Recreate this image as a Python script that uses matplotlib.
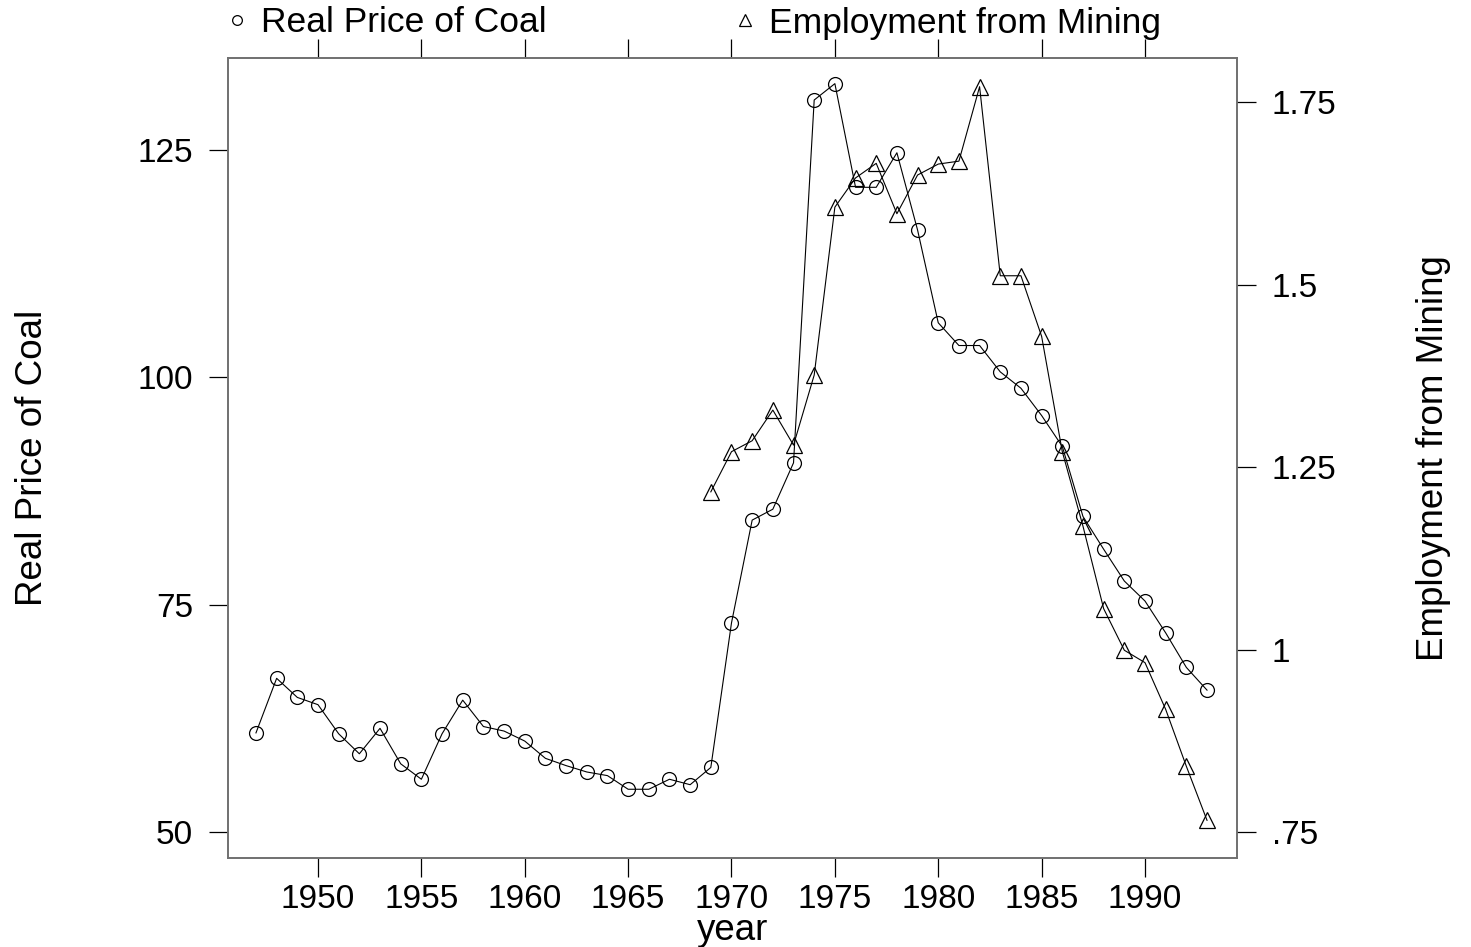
import matplotlib
matplotlib.use("Agg")
import matplotlib.pyplot as plt
from matplotlib.lines import Line2D

plt.rcParams['font.family'] = ['Liberation Sans', 'DejaVu Sans']

years = list(range(1947, 1994))
coal_price = [60.9, 66.9, 64.8, 64.0, 60.8, 58.6, 61.4, 57.5, 55.8, 60.8,
              64.5, 61.6, 61.1, 60.0, 58.1, 57.3, 56.6, 56.2, 54.7, 54.7,
              55.8, 55.2, 57.1, 73.0, 84.3, 85.5, 90.6, 130.5, 132.3, 120.9,
              120.9, 124.7, 116.2, 106.0, 103.5, 103.5, 100.6, 98.8, 95.8, 92.4,
              84.7, 81.1, 77.6, 75.4, 71.9, 68.1, 65.6]
emp_years = list(range(1969, 1994))
employment = [1.216, 1.271, 1.286, 1.328, 1.280, 1.376, 1.606, 1.646, 1.666, 1.597,
              1.650, 1.665, 1.669, 1.771, 1.512, 1.512, 1.429, 1.271, 1.169, 1.056,
              0.999, 0.982, 0.918, 0.840, 0.766]

xticks = [1950, 1955, 1960, 1965, 1970, 1975, 1980, 1985, 1990]
left_ticks = [50, 75, 100, 125]
right_ticks = [0.75, 1.0, 1.25, 1.5, 1.75]
right_labels = ['.75', '1', '1.25', '1.5', '1.75']

W, H = 1471, 947
fig = plt.figure(figsize=(W / 100, H / 100), dpi=100)
ax = fig.add_axes([228 / W, 1 - 858 / H, (1237 - 228) / W, (858 - 58) / H])
ax2 = ax.twinx()

fs_tick = 24
fs_title = 26.5
fs_leg = 25.5
mk = dict(markerfacecolor='none', markeredgecolor='black', markeredgewidth=0.9)
ax.plot(years, coal_price, color='black', lw=0.8, marker='o', markersize=10, **mk)
ax2.plot(emp_years, employment, color='black', lw=0.8, marker='^', markersize=11, **mk)

ax.set_xlim(1945.647, 1994.45)
ax.set_ylim(47.14, 135.12)
ax2.set_ylim(0.7144, 1.8103)

ax.set_xticks(xticks)
ax.set_xticklabels([str(x) for x in xticks], fontsize=fs_tick)
ax.set_yticks(left_ticks)
ax.set_yticklabels([str(v) for v in left_ticks], fontsize=fs_tick)
ax2.set_yticks(right_ticks)
ax2.set_yticklabels(right_labels, fontsize=fs_tick)

ax.tick_params(axis='x', which='both', direction='out', length=14, width=0.9,
               top=True, pad=5, color='black')
ax.tick_params(axis='y', direction='out', length=14, width=0.9, pad=11, color='black')
ax2.tick_params(axis='y', direction='out', length=14, width=0.9, pad=11, color='black')

for a in (ax, ax2):
    for s in a.spines.values():
        s.set_color('#707070')
        s.set_linewidth(1.2)

ax.set_xlabel('year', fontsize=fs_title, labelpad=-2)
ax.set_ylabel('Real Price of Coal', fontsize=fs_title, labelpad=63)
ax2.set_ylabel('Employment from Mining', fontsize=fs_title, labelpad=57)

leg_kw = dict(loc='center left', ncol=1, frameon=False, fontsize=fs_leg,
              handlelength=0.6, handletextpad=0.4, borderaxespad=0.0, borderpad=0.0)
h1 = Line2D([], [], ls='none', marker='o', markersize=7, **mk)
h2 = Line2D([], [], ls='none', marker='^', markersize=9, **mk)
fig.legend([h1], ['Real Price of Coal'], bbox_to_anchor=(226 / W, 1 - 23 / H), **leg_kw)
fig.legend([h2], ['Employment from Mining'], bbox_to_anchor=(734 / W, 1 - 23 / H), **leg_kw)

fig.savefig('out.png', dpi=100, facecolor='white')
